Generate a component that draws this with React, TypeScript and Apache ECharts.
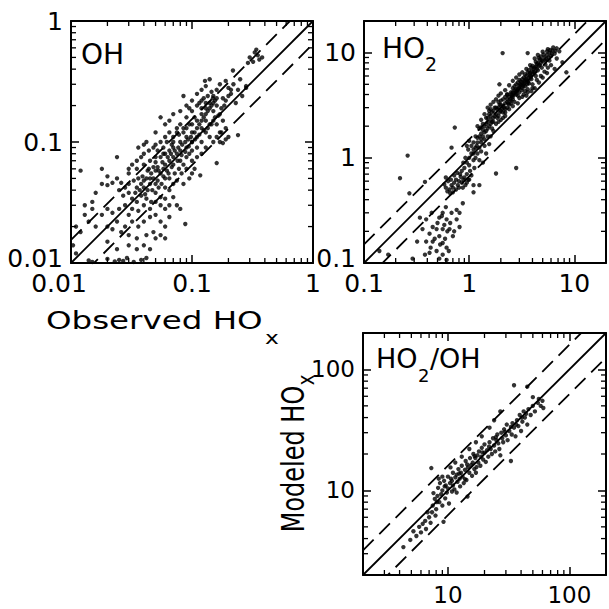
import React, { useEffect, useRef } from "react";
import * as echarts from "echarts";

const FONT = '"DejaVu Sans", "Liberation Sans", sans-serif';

// axis ranges (same on x and y for each panel)
const ohRange = [0.01, 1];
const ho2Range = [0.1, 20];
const ratioRange = [2, 200];

// tick labels
const ohTickLabels = ["0.01", "0.1", "1"];
const ho2TickLabels = ["0.1", "1", "10"];
const ratioTickLabels = ["10", "100"];

// dashed uncertainty lines: factor above / below 1:1
const ohFactor = 1.55;
const ho2Factor = 1.5;
const ratioFactor = 1.6;

// [observed, modeled]
const ohPoints = [
  [0.30,0.50],[0.33,0.55],[0.35,0.52],[0.36,0.48],[0.32,0.46],[0.38,0.50],[0.34,0.58],[0.29,0.45],
  [0.25,0.33],[0.22,0.30],[0.20,0.28],[0.24,0.27],[0.19,0.32],[0.17,0.30],[0.21,0.25],[0.26,0.24],
  [0.28,0.29],[0.16,0.27],[0.15,0.24],[0.18,0.23],[0.23,0.21],[0.14,0.33],[0.13,0.29],[0.128,0.32],
  [0.149,0.23],[0.218,0.39],[0.28,0.28],
  [0.12,0.22],[0.11,0.20],[0.13,0.19],[0.14,0.21],[0.15,0.18],[0.16,0.20],[0.17,0.17],[0.12,0.17],
  [0.10,0.18],[0.11,0.15],[0.13,0.15],[0.14,0.14],[0.15,0.15],[0.16,0.14],[0.18,0.15],[0.19,0.13],
  [0.17,0.12],[0.12,0.13],[0.10,0.14],[0.09,0.16],[0.09,0.13],[0.10,0.12],[0.11,0.11],[0.13,0.12],
  [0.14,0.11],[0.15,0.10],[0.12,0.10],[0.10,0.10],[0.09,0.11],[0.085,0.12],[0.08,0.14],[0.08,0.10],
  [0.075,0.12],[0.07,0.11],[0.07,0.09],[0.08,0.085],[0.09,0.09],[0.095,0.08],[0.1,0.085],[0.11,0.09],
  [0.12,0.08],[0.13,0.09],[0.11,0.075],[0.1,0.07],[0.09,0.075],[0.085,0.065],[0.08,0.07],[0.075,0.08],
  [0.07,0.075],[0.065,0.085],[0.065,0.07],[0.06,0.08],[0.06,0.065],[0.055,0.075],[0.058,0.06],[0.062,0.058],
  [0.068,0.062],[0.072,0.055],[0.078,0.06],[0.082,0.055],[0.09,0.06],[0.095,0.05],[0.1,0.055],[0.105,0.06],
  [0.085,0.045],[0.075,0.048],[0.07,0.045],[0.065,0.05],[0.06,0.05],[0.055,0.055],[0.052,0.062],[0.05,0.058],
  [0.048,0.05],[0.052,0.048],[0.056,0.045],[0.06,0.042],[0.065,0.04],[0.05,0.045],[0.046,0.055],[0.045,0.045],
  [0.044,0.06],[0.042,0.05],[0.04,0.048],[0.043,0.04],[0.047,0.04],[0.05,0.038],[0.055,0.035],[0.06,0.034],
  [0.04,0.042],[0.038,0.045],[0.036,0.05],[0.035,0.042],[0.033,0.048],[0.034,0.038],[0.038,0.036],[0.042,0.034],
  [0.046,0.032],[0.03,0.045],[0.028,0.042],[0.026,0.046],[0.025,0.04],[0.027,0.036],[0.03,0.038],[0.032,0.034],
  [0.035,0.032],[0.022,0.046],[0.02,0.044],[0.018,0.045],[0.024,0.05],[0.03,0.055],[0.035,0.06],[0.04,0.065],
  [0.045,0.07],[0.05,0.075],[0.052,0.085],[0.058,0.09],[0.062,0.1],[0.07,0.1],[0.075,0.13],[0.065,0.12],
  [0.06,0.11],[0.055,0.1],[0.05,0.095],[0.048,0.09],[0.044,0.085],[0.04,0.08],[0.038,0.075],[0.035,0.07],
  [0.032,0.065],[0.03,0.06],[0.042,0.1],[0.036,0.09],[0.04,0.095],[0.05,0.12],[0.055,0.16],[0.09,0.2],
  [0.085,0.24],[0.1,0.22],[0.11,0.25],[0.12,0.27],[0.095,0.19],[0.08,0.18],[0.07,0.17],[0.065,0.15],[0.06,0.14],
  [0.07,0.035],[0.075,0.03],[0.08,0.028],[0.065,0.03],[0.06,0.028],[0.055,0.03],[0.05,0.032],[0.045,0.028],
  [0.04,0.03],[0.036,0.027],[0.032,0.028],[0.03,0.025],[0.028,0.03],[0.025,0.028],[0.022,0.026],[0.02,0.028],
  [0.018,0.025],[0.024,0.022],[0.028,0.02],[0.032,0.022],[0.036,0.02],[0.04,0.022],[0.045,0.024],[0.05,0.025],
  [0.055,0.022],[0.06,0.02],[0.048,0.018],[0.042,0.017],[0.035,0.016],[0.03,0.017],[0.026,0.018],[0.022,0.019],
  [0.02,0.02],[0.03,0.014],[0.035,0.013],[0.04,0.014],[0.045,0.013],[0.05,0.016],[0.055,0.017],[0.06,0.016],
  [0.065,0.024],[0.088,0.021],[0.024,0.013],[0.02,0.015],[0.016,0.02],[0.014,0.022],[0.013,0.03],[0.015,0.028],
  [0.012,0.018],[0.011,0.02],[0.013,0.025],[0.012,0.058],[0.016,0.038],[0.015,0.032],[0.024,0.075],[0.018,0.06],
  [0.02,0.052],[0.0104,0.014],[0.011,0.012],
  [0.014,0.0105],[0.015,0.0102],[0.02,0.0108],[0.023,0.0103],[0.025,0.0106],[0.027,0.0104],[0.029,0.011],
  [0.033,0.0102],[0.038,0.0106],[0.042,0.011],
  [0.24,0.114],[0.16,0.067],[0.117,0.053],
  [0.045,0.05],[0.048,0.062],[0.053,0.058],[0.057,0.068],[0.063,0.075],[0.067,0.08],[0.072,0.085],[0.077,0.09],
  [0.083,0.095],[0.088,0.1],[0.093,0.105],[0.098,0.11],[0.105,0.12],[0.11,0.13],[0.115,0.14],[0.12,0.15],
  [0.125,0.16],[0.13,0.17],[0.135,0.18],[0.14,0.19],[0.145,0.2],[0.15,0.21],[0.155,0.22],[0.16,0.23],
  [0.13,0.21],[0.12,0.19],[0.105,0.16],[0.095,0.14],[0.085,0.13],[0.078,0.115],[0.068,0.095],[0.058,0.08],
  [0.05,0.068],[0.043,0.058],[0.039,0.052],[0.037,0.04],[0.041,0.037],[0.053,0.042],[0.058,0.052],[0.064,0.055],
  [0.07,0.065],[0.076,0.07],[0.082,0.078],[0.088,0.083],[0.094,0.092],[0.1,0.1],[0.106,0.105],[0.115,0.115],
  [0.125,0.125],[0.135,0.13],[0.145,0.14],[0.155,0.16],[0.165,0.165],[0.175,0.19],[0.185,0.2],[0.19,0.22],
  [0.2,0.24],[0.21,0.27],[0.145,0.26],[0.135,0.24],[0.125,0.23],[0.115,0.21],
  [0.16,0.11],[0.17,0.1],[0.18,0.098],[0.19,0.105],[0.2,0.11],[0.175,0.12],
];

const ho2Points = [
  [0.9,0.8],[0.95,0.9],[1.0,1.0],[1.05,1.1],[0.92,1.0],[1.0,0.85],[1.1,0.95],[0.98,1.2],[1.05,1.3],[1.1,1.2],
  [0.85,0.75],[0.88,0.9],[0.95,0.7],[1.02,0.75],[0.9,0.65],[0.82,0.7],[0.8,0.6],[0.78,0.55],[0.85,0.58],
  [0.92,0.55],[0.75,0.62],[0.72,0.58],[0.7,0.52],[0.68,0.55],[0.65,0.5],[0.8,0.52],[0.88,0.62],[0.98,0.62],
  [1.05,0.68],[1.12,0.8],[1.15,1.0],[1.2,1.1],[1.18,1.3],[1.1,1.4],[1.0,1.45],[0.95,1.3],[1.25,1.25],[1.3,1.4],
  [1.2,1.55],[1.15,1.6],[1.3,1.7],[1.35,1.6],[1.4,1.5],[1.45,1.8],[1.25,1.9],[1.2,2.0],[1.35,2.1],[1.4,2.0],
  [1.5,1.9],[1.5,2.2],[1.55,2.0],[1.6,2.3],[1.45,2.4],[1.3,2.3],[1.4,2.6],[1.55,2.6],[1.6,2.1],[1.7,2.4],
  [1.65,2.7],[1.7,2.2],[1.8,2.6],[1.75,3.0],[1.6,2.9],[1.5,3.0],[1.85,2.9],[1.9,2.5],[1.95,3.2],[2.0,2.8],
  [2.0,3.5],[1.9,3.4],[2.1,3.1],[2.2,3.3],[2.1,2.7],[2.2,2.9],[2.3,3.6],[2.4,3.2],[2.3,4.0],[2.5,3.5],
  [2.5,4.2],[2.6,3.8],[2.7,4.4],[2.6,4.6],[2.8,4.0],[2.9,4.5],[2.8,5.0],[3.0,4.2],[3.0,4.8],[3.1,5.3],
  [3.2,4.6],[3.3,5.0],[3.2,5.6],[3.4,5.4],[3.5,6.0],[3.6,5.2],[3.4,4.3],[3.7,5.8],[3.8,6.4],[3.9,5.6],
  [4.0,6.2],[4.1,7.0],[4.2,6.5],[4.3,7.4],[4.5,6.8],[4.4,7.8],[4.6,7.5],[4.8,8.0],[4.7,8.6],[5.0,8.3],
  [5.2,9.0],[5.4,8.7],[5.5,9.5],[5.8,10.0],[6.0,9.3],[6.2,10.5],[5.6,10.8],[5.0,10.2],[4.5,9.5],[6.5,9.8],
  [6.8,11],[7.2,10.3],[4.2,8.8],[3.8,7.6],[3.5,7.0],[3.2,6.5],[3.0,6.2],[2.8,5.8],[2.6,5.4],[2.4,4.9],
  [2.2,4.4],[2.0,4.1],[1.9,3.9],[1.8,3.6],[1.7,3.4],[2.7,3.4],[3.0,3.7],[3.3,4.0],[3.6,4.5],[4.0,5.0],
  [4.4,5.5],[4.8,6.0],[5.2,6.6],[5.6,7.2],[6.0,7.6],[2.4,2.9],[2.2,2.5],[2.0,2.3],[1.8,2.1],[1.7,1.8],
  [1.5,1.6],[1.4,1.3],[1.3,1.15],[1.25,0.95],[1.35,0.9],[1.45,1.1],[1.6,1.6],[1.55,1.35],[1.65,1.9],[1.9,2.2],
  [2.6,3.1],[2.9,3.3],[3.5,3.9],[4.2,4.6],[3.9,4.3],[4.6,5.2],[5.0,5.8],[5.5,6.4],[6.5,7.0],[7.7,8.1],
  [8.4,6.5],[6.8,8.8],[5.8,8.4],[5.3,7.7],[4.9,7.2],[4.3,6.0],[3.7,5.1],[3.4,4.8],[2.9,3.9],[2.5,3.3],
  [2.3,3.0],[2.1,2.4],[1.94,5.0],[2.3,4.0],[1.6,3.2],[1.3,1.95],
  [1.6,2.5],[1.7,2.8],[1.8,3.0],[1.9,3.0],[2.0,3.2],[2.1,3.6],[2.2,3.8],[2.3,3.4],[2.4,3.8],[2.5,4.0],
  [2.6,4.2],[2.7,4.8],[2.8,4.5],[2.9,5.2],[3.0,5.5],[3.1,4.9],[3.2,5.2],[3.3,5.8],[3.4,6.2],[3.5,5.5],
  [3.6,6.5],[3.7,6.8],[3.8,6.0],[3.9,7.2],[4.0,7.5],[4.1,6.6],[4.2,7.2],[4.3,8.2],[4.4,7.0],[4.5,8.0],
  [4.6,8.9],[4.7,7.6],[4.8,9.2],[4.9,8.5],[5.1,9.6],[5.3,8.4],[5.5,10.3],[5.7,9.0],[5.9,10.6],[6.1,9.8],
  [6.3,11.2],[6.6,10.4],[3.2,3.8],[3.6,4.2],[4.0,4.6],[2.2,2.7],[2.6,3.6],[1.4,1.75],[1.5,2.4],[1.55,2.8],
  [1.2,1.4],[1.25,1.6],[1.1,1.1],[1.15,1.25],[1.3,1.5],[1.35,1.85],[1.45,2.1],[1.65,2.2],[1.75,2.5],[1.85,2.4],
  [1.95,2.7],[2.05,2.9],[2.15,3.0],[2.35,3.3],[2.45,3.6],[2.55,3.9],[2.65,4.0],[2.75,4.2],[2.85,4.3],[2.95,4.6],
  [3.05,5.0],[3.15,4.4],[3.25,4.8],[3.35,5.2],[3.45,5.6],[3.55,5.0],[3.65,5.4],[3.75,6.2],[3.85,5.8],[3.95,6.6],
  [0.6,0.52],[0.62,0.48],[0.66,0.46],[0.7,0.47],[0.75,0.5],[0.58,0.56],[0.63,0.6],[0.67,0.62],[0.72,0.68],
  [0.77,0.72],[0.83,0.66],[0.87,0.52],[0.95,0.58],[1.0,0.62],[1.1,0.55],[1.1,0.47],[1.25,0.55],[0.6,0.65],
  [0.87,0.37],[0.76,0.32],[0.68,0.30],[0.56,0.30],[0.52,0.27],[0.61,0.26],[0.76,0.26],[0.81,0.22],[0.45,0.22],
  [0.49,0.21],[0.56,0.21],[0.65,0.21],[0.42,0.19],[0.52,0.18],[0.7,0.18],[0.39,0.16],[0.45,0.16],[0.56,0.155],
  [0.61,0.14],[0.49,0.13],[0.42,0.125],[0.56,0.12],[0.61,0.107],[0.52,0.11],[0.36,0.21],[0.34,0.27],[0.39,0.26],
  [0.32,0.16],[0.81,0.3],[0.44,0.3],[0.5,0.24],[0.58,0.23],[0.62,0.2],[0.66,0.24],[0.72,0.2],[0.47,0.17],
  [0.53,0.15],[0.59,0.17],[0.64,0.13],[0.43,0.14],[0.38,0.12],[0.55,0.28],[0.6,0.34],
  [0.14,0.13],[0.17,0.12],[0.29,0.11],[0.26,1.05],[0.22,0.64],[0.27,0.46],[0.38,0.59],[0.73,1.94],
  [0.68,1.25],[2.08,9.9],[3.6,9.9],[2.8,0.8],[1.8,0.71],
];

const ratioPoints = [
  [4.3,3.4],[4.9,3.9],[5.2,4.6],[5.5,4.2],[5.8,5.0],[6.0,4.5],[6.2,5.3],[6.5,5.6],[6.6,4.8],[7.0,6.0],
  [7.2,5.4],[7.4,6.6],[7.5,7.5],[7.8,8.5],[7.3,15.3],[7.6,9.5],[7.9,6.2],[8.0,7.0],[8.2,9.0],[8.3,10.5],
  [8.5,8.0],[8.6,11.5],[8.8,9.3],[9.0,7.5],[9.0,10.0],[9.2,5.5],[9.3,12.0],[9.5,8.6],[9.6,11.0],[9.8,9.6],
  [10.0,13.0],[10.0,10.4],[10.2,7.8],[10.4,11.5],[10.6,12.5],[10.8,9.8],[11.0,14.0],[11.0,11.0],[11.3,10.2],
  [11.5,12.8],[11.8,13.5],[12.0,11.8],[12.2,15.0],[12.5,12.5],[12.6,10.8],[12.8,14.0],[13.0,16.0],[13.2,13.0],
  [13.5,11.5],[13.8,14.8],[14.0,17.5],[14.2,12.2],[14.5,8.9],[14.6,15.5],[15.0,14.0],[15.2,18.5],[15.5,16.2],
  [15.8,13.2],[16.0,17.0],[16.2,20.0],[16.5,15.0],[16.8,18.5],[17.0,14.0],[17.5,19.5],[17.8,17.0],[18.0,21.0],
  [18.5,16.0],[18.8,19.0],[19.0,22.5],[19.5,18.0],[20.0,20.5],[20.0,24.0],[20.5,17.2],[21.0,21.5],[21.5,19.0],
  [22.0,25.0],[22.5,22.0],[23.0,20.0],[23.5,27.0],[24.0,23.5],[24.5,21.0],[25.0,26.0],[25.5,29.0],[26.0,24.5],
  [26.5,22.0],[27.0,19.5],[27.5,30.0],[28.0,27.0],[28.5,25.0],[29.0,32.0],[30.0,28.5],[30.5,35.0],[31.0,26.0],
  [32.0,31.0],[33.0,17.5],[33.5,29.0],[34.0,36.0],[35.0,33.0],[35.0,74.0],[36.0,28.0],[37.0,38.0],[38.0,34.0],
  [39.0,42.0],[40.0,31.0],[41.0,37.0],[42.0,45.0],[43.0,40.0],[45.0,72.0],[45.0,35.0],[46.0,47.0],[48.0,42.0],
  [50.0,59.0],[50.0,50.0],[52.0,45.0],[55.0,53.0],[58.0,50.0],[60.0,55.0],[61.0,48.0],[56.0,57.0],
  [27,45],[24,38],[22,33],[19,28],[17,25],[15,22],[13,19],[11.5,17],[10.5,15.5],[9,13],[8.4,12.5],
  [9.4,10.8],[10.8,12.0],[12.4,13.8],[14.4,16.4],[16.6,19.2],[19.2,20.6],[21.8,23.0],[24.8,27.5],[29.5,30.5],
  [33.0,33.5],[36.5,35.0],[40.5,40.0],[44.0,43.0],[6.8,6.6],[8.1,8.0],[11.8,9.6],[13.8,12.4],[17.2,15.6],
];

const panelData = [
  { range: ohRange, labels: ohTickLabels, points: ohPoints, factor: ohFactor, labelSize: 25, shiftFirstX: true, shiftFirstY: true },
  { range: ho2Range, labels: ho2TickLabels, points: ho2Points, factor: ho2Factor, labelSize: 25, shiftFirstX: false, shiftFirstY: true },
  { range: ratioRange, labels: ratioTickLabels, points: ratioPoints, factor: ratioFactor, labelSize: 23, shiftFirstX: false, shiftFirstY: false },
];

const gridBoxes = [
  { left: 71, top: 21, width: 242, height: 242 },
  { left: 364, top: 21, width: 243, height: 242 },
  { left: 363, top: 333, width: 244, height: 242 },
];

function minorTickValues(min: number, max: number) {
  const out: number[] = [];
  for (let e = Math.floor(Math.log10(min)); e <= Math.ceil(Math.log10(max)); e++) {
    for (let m = 2; m <= 9; m++) {
      const v = m * Math.pow(10, e);
      if (v > min * 1.0001 && v < max * 0.9999) out.push(v);
    }
  }
  return out;
}

function makeFormatter(labels: string[], shiftFirst: boolean) {
  return (val: number) => {
    const s = labels.find((l) => Math.abs(Math.log10(parseFloat(l)) - Math.log10(val)) < 1e-6);
    if (!s) return "";
    if (shiftFirst && s === labels[0]) return "{s|" + s + "}";
    return s;
  };
}

function buildOption() {
  const grid: any[] = [];
  const xAxis: any[] = [];
  const yAxis: any[] = [];
  const series: any[] = [];
  const axisLine = { show: true, onZero: false, lineStyle: { color: "#000", width: 2 } };
  const axisTick = { show: true, inside: true, length: 8, lineStyle: { color: "#000", width: 1.5 } };

  panelData.forEach((p, i) => {
    const [lo, hi] = p.range;
    grid.push({ ...gridBoxes[i], containLabel: false });
    const base = {
      type: "log",
      logBase: 10,
      gridIndex: i,
      min: lo,
      max: hi,
      axisLine,
      axisTick,
      splitLine: { show: false },
      minorTick: { show: false },
    };
    const lbl = (shift: boolean, pad: number[]) => ({
      show: true,
      margin: 8,
      color: "#000",
      fontFamily: FONT,
      fontSize: p.labelSize,
      formatter: makeFormatter(p.labels, shift),
      rich: {
        s: { padding: pad, fontFamily: FONT, fontSize: p.labelSize, color: "#000" },
      },
    });
    xAxis.push({ ...base, position: "bottom", axisLabel: lbl(p.shiftFirstX, [0, 24, 0, 0]) });
    xAxis.push({ ...base, position: "top", axisLabel: { show: false } });
    yAxis.push({ ...base, position: "left", axisLabel: lbl(p.shiftFirstY, [0, 0, 10, 0]) });
    yAxis.push({ ...base, position: "right", axisLabel: { show: false } });

    const xi = 2 * i;
    series.push({
      type: "scatter",
      xAxisIndex: xi,
      yAxisIndex: xi,
      symbol: "circle",
      symbolSize: 4.4,
      itemStyle: { color: "#000" },
      data: p.points,
      silent: true,
      z: 3,
    });
    const lineStyle = { color: "#000", width: 1.8 };
    series.push({
      type: "line",
      xAxisIndex: xi,
      yAxisIndex: xi,
      symbol: "none",
      clip: true,
      lineStyle,
      data: [[lo, lo], [hi, hi]],
      z: 2,
    });
    series.push({
      type: "line",
      xAxisIndex: xi,
      yAxisIndex: xi,
      symbol: "none",
      clip: true,
      lineStyle: { ...lineStyle, type: [15, 8] },
      data: [[lo, lo * p.factor], [hi, hi * p.factor]],
      z: 2,
    });
    series.push({
      type: "line",
      xAxisIndex: xi,
      yAxisIndex: xi,
      symbol: "none",
      clip: true,
      lineStyle: { ...lineStyle, type: [15, 8] },
      data: [[lo, lo / p.factor], [hi, hi / p.factor]],
      z: 2,
    });
    const minor = minorTickValues(lo, hi);
    series.push({
      type: "custom",
      xAxisIndex: xi,
      yAxisIndex: xi,
      silent: true,
      data: minor.map((v) => [v, v]),
      renderItem: (params: any, api: any) => {
        const v = api.value(0);
        const b = api.coord([v, lo]);
        const t = api.coord([v, hi]);
        const l = api.coord([lo, v]);
        const r = api.coord([hi, v]);
        const L = 5;
        const style = { stroke: "#000", lineWidth: 1.3 };
        return {
          type: "group",
          children: [
            { type: "line", shape: { x1: b[0], y1: b[1], x2: b[0], y2: b[1] - L }, style },
            { type: "line", shape: { x1: t[0], y1: t[1], x2: t[0], y2: t[1] + L }, style },
            { type: "line", shape: { x1: l[0], y1: l[1], x2: l[0] + L, y2: l[1] }, style },
            { type: "line", shape: { x1: r[0], y1: r[1], x2: r[0] - L, y2: r[1] }, style },
          ],
        };
      },
      z: 4,
    });
  });

  const txt = (text: string, x: number, y: number, size: number, extra: any = {}) => ({
    type: "text",
    x,
    y,
    ...extra,
    style: {
      text,
      fill: "#000",
      fontFamily: FONT,
      fontSize: size,
      align: extra.align || "left",
      verticalAlign: "middle",
    },
    z: 10,
  });

  const graphic = [
    txt("OH", 81, 54, 28),
    txt("HO", 382, 48, 28),
    txt("2", 425, 64, 19),
    txt("HO", 376, 358, 27),
    txt("2", 418, 375, 18),
    txt("/OH", 430, 358, 27),
    txt("Observed HO", 46, 320, 25, { scaleX: 1.3 }),
    txt("x", 265, 338, 18, { scaleX: 1.3 }),
    txt("Modeled HO", 293, 459, 24, { rotation: Math.PI / 2, scaleY: 1.3, align: "center" }),
    txt("x", 306, 380, 18, { rotation: Math.PI / 2, scaleY: 1.3, align: "center" }),
  ];

  return {
    animation: false,
    backgroundColor: "#fff",
    grid,
    xAxis,
    yAxis,
    series,
    graphic,
  };
}

export default function App() {
  const ref = useRef<HTMLDivElement>(null);
  useEffect(() => {
    const chart = echarts.init(ref.current as HTMLDivElement, null, { renderer: "svg" });
    chart.setOption(buildOption() as any);
    return () => chart.dispose();
  }, []);
  return (
    <div
      ref={ref}
      style={{ position: "fixed", left: 0, top: 0, width: 609, height: 609, background: "#fff" }}
    />
  );
}
